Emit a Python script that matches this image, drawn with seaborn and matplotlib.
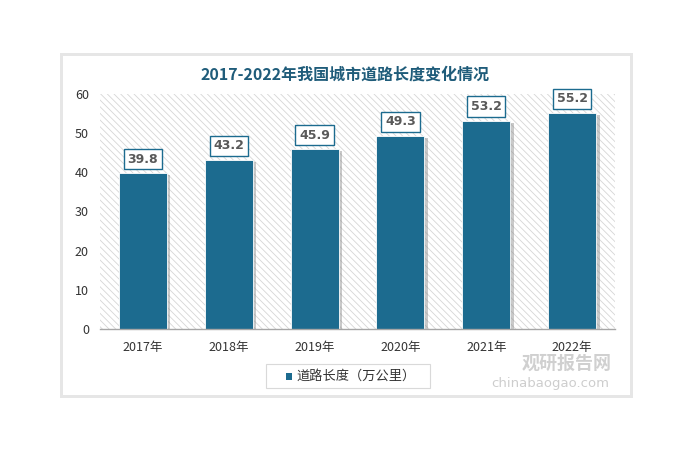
import numpy as np
import pandas as pd
import matplotlib
matplotlib.use("Agg")
import matplotlib.pyplot as plt
import matplotlib.patheffects as pe
from matplotlib.patches import Rectangle
import seaborn as sns

years = ["2017年", "2018年", "2019年", "2020年", "2021年", "2022年"]
road_length = [39.8, 43.2, 45.9, 49.3, 53.2, 55.2]
series_name = "道路长度（万公里）"
title = "2017-2022年我国城市道路长度变化情况"

bar_color = "#1c6b8f"
df = pd.DataFrame({"year": years, "value": road_length})

sns.set_style("white")
plt.rcParams["font.family"] = ["Noto Sans CJK SC", "DejaVu Sans"]
plt.rcParams["hatch.color"] = "#d6d6d6"
plt.rcParams["hatch.linewidth"] = 0.6

fig = plt.figure(figsize=(6.88, 4.54), dpi=100)
fig.patch.set_facecolor("white")

# card with soft shadow
fig.patches.append(Rectangle((60 / 688, 1 - 398 / 454), 573 / 688, 345 / 454,
                             transform=fig.transFigure, facecolor="#e6e6e6",
                             edgecolor="none", zorder=-3))
fig.patches.append(Rectangle((63 / 688, 1 - 395 / 454), 567 / 688, 339 / 454,
                             transform=fig.transFigure, facecolor="white",
                             edgecolor="none", zorder=-2))

ax = fig.add_axes([100 / 688, 1 - 329 / 454, 515 / 688, 235 / 454])
ax.set_facecolor("none")
# hatched plot area
ax.add_patch(Rectangle((0, 0), 1, 1, transform=ax.transAxes, facecolor="white",
                       edgecolor="#d6d6d6", lw=0, hatch="\\\\\\\\\\", zorder=0))

sns.barplot(data=df, x="year", y="value", color=bar_color, width=0.56,
            saturation=1, ax=ax, zorder=2)
for p in ax.patches[1:]:
    p.set_path_effects([pe.SimplePatchShadow(offset=(2.5, -1.5), shadow_rgbFace="#888888", alpha=0.45),
                        pe.Normal()])
    p.set_edgecolor("white")
    p.set_linewidth(0.6)
    p.set_hatch("")

for i, v in enumerate(road_length):
    ax.annotate(f"{v}", (i, v), xytext=(0, 14), textcoords="offset pixels",
                ha="center", va="center", fontsize=9, fontweight="bold", color="#595959",
                fontfamily="DejaVu Sans",
                bbox=dict(boxstyle="square,pad=0.3", fc="white", ec="#1c6b8f", lw=1),
                zorder=5)

ax.set_ylim(0, 60)
ax.set_yticks(range(0, 61, 10))
ax.set_xlim(-0.5, 5.5)
ax.set_xlabel("")
ax.set_ylabel("")
for s in ["top", "right", "left"]:
    ax.spines[s].set_visible(False)
ax.spines["bottom"].set_color("#a6a6a6")
ax.spines["bottom"].set_linewidth(1)
ax.tick_params(axis="y", length=0, labelsize=9, labelcolor="#333333", pad=8)
ax.tick_params(axis="x", length=0, labelsize=9, labelcolor="#333333", pad=9)

fig.text(345 / 688, 1 - 75 / 454, title, ha="center", va="center",
         fontsize=11.5, fontweight="bold", color="#1f5c7a")

# legend
fig.patches.append(Rectangle((266 / 688, 1 - 388 / 454), 164 / 688, 24 / 454,
                             transform=fig.transFigure, facecolor="white",
                             edgecolor="#d9d9d9", lw=0.8, zorder=1))
fig.patches.append(Rectangle((286 / 688, 1 - 380 / 454), 6 / 688, 7 / 454,
                             transform=fig.transFigure, facecolor=bar_color,
                             edgecolor="none", zorder=2))
fig.text(296 / 688, 1 - 376 / 454, series_name, ha="left", va="center",
         fontsize=9.5, color="#333333")

# watermark
fig.text(567 / 688, 1 - 363 / 454, "观研报告网", ha="center", va="center",
         fontsize=13, fontweight="bold", color="#c8c8c8", alpha=0.85)
fig.text(550 / 688, 1 - 383 / 454, "chinabaogao.com", ha="center", va="center",
         fontsize=9.5, color="#c8c8c8", fontfamily="DejaVu Sans", alpha=0.9)

fig.savefig("out.png", dpi=100)
